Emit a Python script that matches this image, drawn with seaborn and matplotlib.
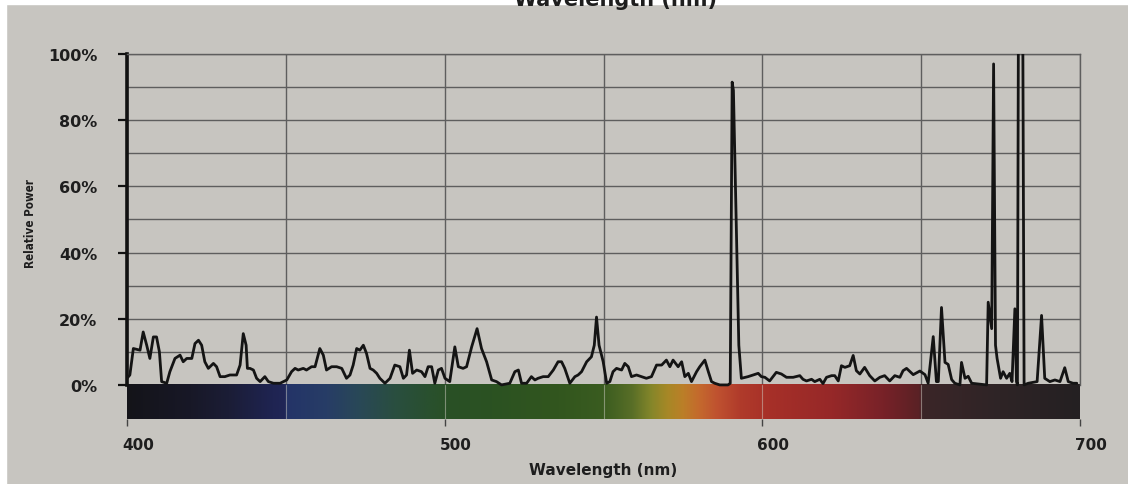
import numpy as np
import pandas as pd
import matplotlib
matplotlib.use("Agg")
import matplotlib.pyplot as plt
import matplotlib.transforms as mtransforms
from matplotlib import font_manager as fm
from matplotlib.colors import to_rgb
from matplotlib.patches import Rectangle
import seaborn as sns

# ---------------- data ----------------
wavelength = [
    400.0, 400.9, 402.0, 404.1, 405.1, 406.2, 407.2, 408.3, 409.3, 410.2,
    410.9, 412.5, 413.5, 415.1, 416.7, 417.7, 418.8, 420.4, 421.4, 422.5,
    423.5, 424.5, 425.6, 427.2, 428.2, 429.3, 430.8, 432.4, 434.5, 435.6,
    436.6, 437.5, 437.9, 438.7, 439.8, 440.8, 441.9, 443.4, 444.5, 446.1,
    448.2, 450.3, 451.8, 452.9, 453.9, 455.5, 456.5, 458.1, 459.2, 460.7,
    461.8, 462.8, 464.4, 466.0, 467.6, 469.1, 470.2, 471.2, 472.3, 473.3,
    474.4, 475.4, 476.5, 477.5, 478.6, 479.6, 481.2, 482.8, 484.3, 485.9,
    487.0, 488.0, 488.9, 489.9, 491.2, 492.7, 493.8, 494.8, 495.9, 496.9,
    498.0, 499.0, 500.1, 501.6, 503.2, 504.3, 505.8, 506.9, 508.5, 510.2,
    511.6, 513.2, 514.8, 516.3, 517.9, 520.5, 522.1, 523.2, 524.2, 525.8,
    527.3, 528.4, 529.4, 531.0, 532.6, 534.2, 535.7, 536.8, 537.8, 539.4,
    541.0, 542.0, 543.1, 544.7, 546.2, 547.1, 547.8, 548.6, 549.9, 551.0,
    552.0, 553.0, 554.1, 555.7, 556.7, 557.8, 558.8, 560.4, 562.0, 563.5,
    565.1, 566.7, 568.3, 569.8, 570.9, 571.9, 573.5, 574.6, 575.6, 576.7,
    577.7, 579.3, 580.3, 581.9, 583.0, 584.0, 585.0, 586.6, 589.2, 589.9,
    590.5, 590.9, 592.6, 593.4, 595.5, 597.1, 598.7, 599.7, 600.8, 602.3,
    604.4, 606.0, 607.6, 609.7, 611.8, 612.8, 613.9, 615.5, 616.5, 618.1,
    619.1, 620.2, 621.8, 622.8, 623.9, 624.9, 626.0, 627.5, 628.6, 629.6,
    630.7, 632.2, 633.8, 635.4, 637.0, 638.5, 640.1, 641.7, 643.3, 644.3,
    645.4, 647.5, 649.6, 651.2, 652.2, 653.8, 654.8, 655.4, 656.4, 657.5,
    658.5, 659.6, 660.6, 662.2, 662.7, 663.8, 664.8, 665.9, 670.6, 671.1,
    672.2, 672.8, 673.4, 673.9, 675.0, 675.8, 676.9, 677.9, 678.6, 679.5,
    680.0, 680.3, 680.6, 682.0, 682.4, 683.7, 686.5, 687.9, 688.9, 690.5,
    692.1, 693.7, 695.2, 696.3, 697.8, 699.0,
]
relative_power = [
    2.0, 3.0, 11.0, 10.5, 16.0, 12.0, 8.0, 14.5, 14.5, 10.0,
    1.0, 0.5, 4.0, 8.0, 9.0, 7.0, 8.0, 8.0, 12.5, 13.5,
    12.0, 7.0, 5.0, 6.5, 5.5, 2.5, 2.5, 3.0, 3.0, 6.0,
    15.5, 12.0, 5.0, 5.0, 4.5, 2.0, 1.0, 2.5, 1.0, 0.5,
    0.5, 1.5, 4.0, 5.0, 4.5, 5.0, 4.5, 5.5, 5.5, 11.0,
    9.0, 4.5, 5.5, 5.5, 5.0, 2.0, 3.0, 6.0, 11.0, 10.5,
    12.0, 9.5, 5.0, 4.5, 3.5, 2.0, 0.5, 2.0, 6.0, 5.5,
    2.0, 3.0, 10.5, 3.5, 4.5, 4.0, 2.5, 5.5, 5.5, 0.5,
    4.5, 5.0, 2.0, 1.0, 11.5, 5.5, 5.0, 5.5, 11.5, 17.0,
    11.0, 7.0, 1.5, 1.0, 0.0, 0.5, 4.0, 4.5, 0.5, 0.5,
    2.5, 1.5, 2.0, 2.5, 2.5, 4.5, 7.0, 7.0, 5.0, 0.5,
    2.5, 3.0, 4.0, 7.0, 8.5, 12.0, 20.5, 12.0, 7.0, 0.5,
    1.0, 4.0, 5.0, 4.5, 6.5, 5.5, 2.5, 3.0, 2.5, 2.0,
    2.5, 6.0, 6.0, 7.5, 5.5, 7.5, 5.5, 7.0, 2.5, 3.5,
    1.0, 4.0, 5.5, 7.5, 4.0, 1.0, 0.5, 0.0, 0.0, 0.5,
    91.5, 89.0, 12.0, 2.0, 2.5, 3.0, 3.5, 2.5, 2.3, 1.2,
    3.8, 3.3, 2.3, 2.3, 2.8, 1.7, 1.2, 1.7, 1.0, 1.7,
    0.4, 2.3, 2.8, 2.8, 1.2, 5.8, 5.3, 5.8, 8.9, 4.3,
    3.3, 5.3, 2.8, 1.2, 2.3, 2.8, 1.2, 2.8, 2.3, 4.3,
    5.0, 3.1, 4.2, 3.1, 0.5, 14.6, 1.0, 1.0, 23.4, 6.8,
    6.2, 1.6, 0.5, 0.0, 6.8, 2.0, 2.6, 0.5, 0.0, 25.0,
    17.0, 97.0, 12.0, 8.0, 2.0, 4.0, 2.0, 3.5, 1.0, 23.0,
    1.0, 0.0, 105.0, 105.0, 0.0, 0.5, 1.0, 21.0, 2.0, 1.0,
    1.5, 1.0, 5.2, 1.0, 0.5, 0.5,
]

x_ticks = [400, 500, 600, 700]
x_tick_labels = ["400", "500", "600", "700"]
x_grid = [450, 550, 650]
y_ticks = [0, 20, 40, 60, 80, 100]
y_tick_labels = ["0%", "20%", "40%", "60%", "80%", "100%"]
y_grid = [10, 30, 50, 70, 90]

# colour stops of the visible-spectrum strip (wavelength, colour)
strip_wl = [400, 420, 432, 446, 449.6, 450.4, 463, 473, 484, 494,
            501, 515, 536, 550, 559, 565, 570, 575, 580, 586,
            593, 602, 622, 638, 649.4, 650.6, 675, 700]
strip_col = ["#141419", "#181827", "#1b1d36", "#1f2452", "#202656", "#243468", "#273d66", "#294857", "#294e40", "#295030",
             "#295026", "#2b5222", "#32561e", "#3a5c20", "#586e27", "#84862a", "#a68826", "#bb7f28", "#c46a2d", "#bf5130",
             "#b03b2b", "#a73028", "#962828", "#782228", "#5a2125", "#3b2628", "#2e2426", "#242022"]

# ---------------- styling ----------------
sns.set_theme(style="white")
plt.rcParams["font.family"] = ["DejaVu Sans"]

BG = "#c7c5c0"
GRID = "#5e5e5e"
TXT = "#1e1e1e"
W, H = 1128, 485

# a condensed bold face for the y-axis title, if one is installed
cond = [f for f in fm.fontManager.ttflist
        if ("Narrow" in f.name or "Condensed" in f.name or str(f.stretch) in ("condensed", "semi-condensed"))
        and str(f.weight) in ("bold", "700") and "Oblique" not in f.fname and "Italic" not in f.fname]
if cond:
    ylab_font = fm.FontProperties(fname=cond[0].fname, size=8.4)
else:
    ylab_font = fm.FontProperties(family="DejaVu Sans", weight="bold", size=6.6)

fig = plt.figure(figsize=(W / 100, H / 100), dpi=100, facecolor=BG)
ax = fig.add_axes([127 / W, 1 - 420 / H, 953 / W, 365 / H])
ax.set_facecolor(BG)

ymin = -10.3
ax.set_xlim(400, 700)
ax.set_ylim(ymin, 100)

# spectrum strip
xs = np.linspace(400, 700, 1500)
rgb = np.array([to_rgb(c) for c in strip_col])
img = np.stack([np.interp(xs, strip_wl, rgb[:, k]) for k in range(3)], axis=-1)[None, :, :]
ax.imshow(img, extent=[400, 700, ymin, 0], aspect="auto", zorder=1, interpolation="bilinear")
for gx in x_grid + x_ticks[1:-1]:
    ax.plot([gx, gx], [ymin, 0], color="#cfcdc4", lw=0.8, alpha=0.5, zorder=1.5)

# the spectrum line
df = pd.DataFrame({"Wavelength (nm)": wavelength, "Relative Power": relative_power})
sns.lineplot(data=df, x="Wavelength (nm)", y="Relative Power", ax=ax, color="#141414",
             lw=2.0, estimator=None, sort=False, zorder=3)

# ticks / grid
ax.set_xticks(x_ticks)
ax.set_xticklabels(x_tick_labels)
ax.set_xticks(x_grid, minor=True)
ax.set_yticks(y_ticks)
ax.set_yticklabels(y_tick_labels)
ax.set_yticks(y_grid, minor=True)
ax.set_axisbelow(True)
ax.grid(which="both", color=GRID, lw=1.0)
ax.tick_params(axis="x", which="major", bottom=True, length=5, width=1, color="#444444",
               pad=8, labelsize=11, labelcolor=TXT)
ax.tick_params(axis="y", which="major", left=True, length=6.5, width=1.6, color="#111111",
               pad=15, labelsize=11.5, labelcolor=TXT)
ax.tick_params(which="minor", length=0)
for lbl in ax.get_xticklabels() + ax.get_yticklabels():
    lbl.set_fontweight("bold")
offset = mtransforms.ScaledTranslation(11 / 100, 0, fig.dpi_scale_trans)
for lbl in ax.get_xticklabels():
    lbl.set_transform(lbl.get_transform() + offset)

for s in ["top", "right"]:
    ax.spines[s].set_color(GRID)
    ax.spines[s].set_linewidth(1.0)
ax.spines["right"].set_bounds(0, 100)
ax.spines["bottom"].set_visible(False)
ax.spines["left"].set_color("#111111")
ax.spines["left"].set_linewidth(2.6)
ax.spines["left"].set_bounds(0, 100)

ax.set_xlabel("Wavelength (nm)", fontsize=11, fontweight="bold", color=TXT)
ax.xaxis.set_label_coords(0.4995, -0.118)
ax.set_ylabel("Relative Power", fontproperties=ylab_font, color=TXT)
ax.yaxis.set_label_coords(-0.094, 0.537)

# photo edges and the cut-off caption at the very top (cut off in the reference as well)
fig.patches.append(Rectangle((0, 1 - 5 / H), 1, 5 / H, transform=fig.transFigure,
                             color="white", zorder=0))
fig.patches.append(Rectangle((0, 0), 6 / W, 1, transform=fig.transFigure,
                             color="white", zorder=0))
fig.text(615 / W, 1 - 10 / H, "Wavelength (nm)", ha="center", va="bottom",
         fontsize=15, fontweight="bold", color=TXT)

fig.savefig("out.png", dpi=100, facecolor=BG)
